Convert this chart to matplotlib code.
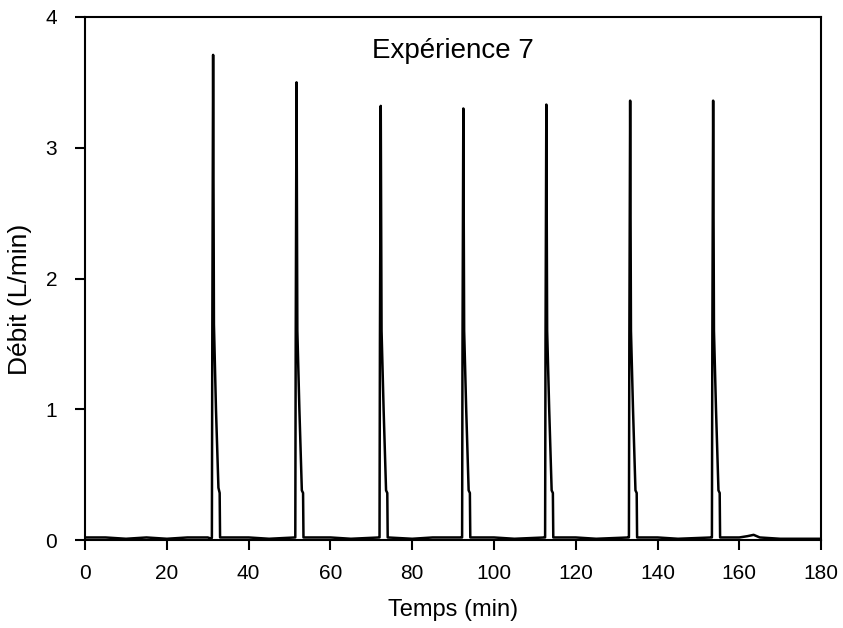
import matplotlib.pyplot as plt

plt.rcParams['font.family'] = ['Liberation Sans', 'DejaVu Sans']

# flow record (time in min, flow in L/min)
temps = [0, 5, 10, 15, 20, 25, 30, 30.9,
         31.0, 31.1, 31.3, 31.5, 32.0, 32.6, 32.9, 33.0,
         40, 45, 51.3,
         51.4, 51.5, 51.7, 51.9, 52.4, 53.0, 53.3, 53.4,
         60, 65, 71.9,
         72.0, 72.1, 72.3, 72.5, 73.0, 73.6, 73.9, 74.0,
         80, 85, 92.1,
         92.2, 92.3, 92.5, 92.7, 93.2, 93.8, 94.1, 94.2,
         100, 105, 112.4,
         112.5, 112.6, 112.8, 113.0, 113.5, 114.1, 114.4, 114.5,
         120, 125, 132.9,
         133.0, 133.1, 133.3, 133.5, 134.0, 134.6, 134.9, 135.0,
         140, 145, 153.2,
         153.3, 153.4, 153.6, 153.8, 154.3, 154.9, 155.2, 155.3,
         158, 160, 162, 163.5, 165, 170, 180]
debit = [0.02, 0.02, 0.01, 0.02, 0.01, 0.02, 0.02, 0.01,
         0.02, 1.55, 3.71, 1.65, 1.0, 0.40, 0.36, 0.02,
         0.02, 0.01, 0.02,
         0.02, 1.50, 3.50, 1.60, 1.0, 0.38, 0.36, 0.02,
         0.02, 0.01, 0.02,
         0.02, 1.50, 3.32, 1.60, 1.0, 0.38, 0.36, 0.02,
         0.01, 0.02, 0.02,
         0.02, 1.50, 3.30, 1.60, 1.0, 0.38, 0.36, 0.02,
         0.02, 0.01, 0.02,
         0.02, 1.50, 3.33, 1.60, 1.0, 0.38, 0.36, 0.02,
         0.02, 0.01, 0.02,
         0.02, 1.50, 3.36, 1.60, 1.0, 0.38, 0.36, 0.02,
         0.02, 0.01, 0.02,
         0.02, 1.50, 3.36, 1.60, 1.0, 0.38, 0.36, 0.02,
         0.02, 0.02, 0.03, 0.04, 0.02, 0.01, 0.01]

x_ticks = [0, 20, 40, 60, 80, 100, 120, 140, 160, 180]
y_ticks = [0, 1, 2, 3, 4]

fig = plt.figure(figsize=(8.43, 6.28), dpi=100)
ax = fig.add_axes([0.101, 0.140, 0.873, 0.833])

ax.plot(temps, debit, color='black', lw=1.8)

ax.set_xlim(0, 180)
ax.set_ylim(0, 4)
ax.set_xticks(x_ticks)
ax.set_yticks(y_ticks)
ax.tick_params(direction='out', length=7, width=1.5, labelsize=15)
ax.tick_params(axis='x', pad=10)
ax.tick_params(axis='y', pad=13)
for s in ax.spines.values():
    s.set_linewidth(1.5)

ax.set_xlabel('Temps (min)', fontsize=17, labelpad=12)
ax.set_ylabel('Débit (L/min)', fontsize=19)
ax.yaxis.set_label_coords(-0.072, 0.46)
ax.text(90, 3.74, 'Expérience 7', fontsize=20, ha='center', va='center')

fig.savefig('out.png', dpi=100)
